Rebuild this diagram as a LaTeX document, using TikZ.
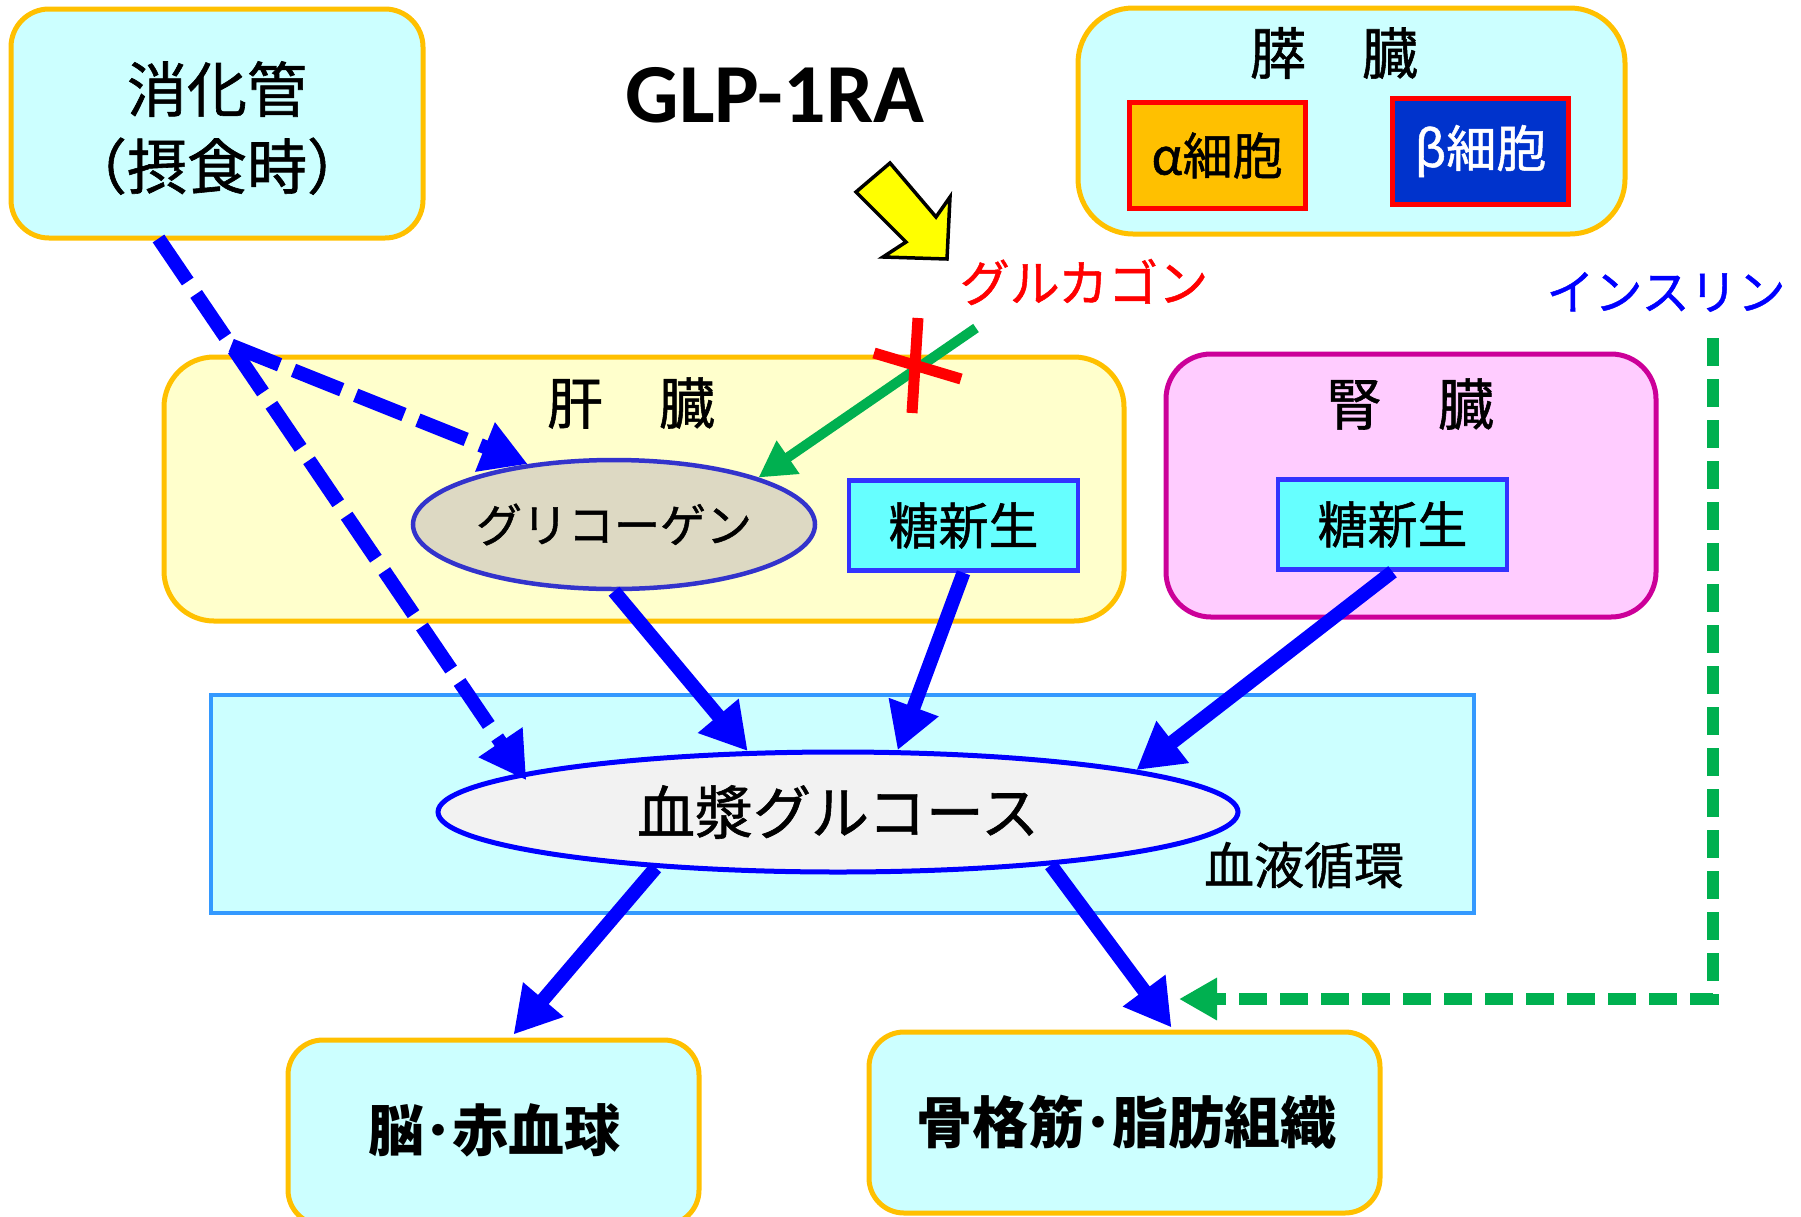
\documentclass[tikz,border=0pt]{standalone}
\usepackage{fontspec}
\setmainfont{Noto Sans CJK JP}[UprightFeatures={FakeBold=1}]
\newfontfamily\latinfont{Carlito}
\usetikzlibrary{arrows.meta,calc,shapes.geometric}
\definecolor{lightcyan}{HTML}{CCFFFF}
\definecolor{goldline}{HTML}{FFC000}
\definecolor{liverfill}{HTML}{FFFFCC}
\definecolor{kidneyfill}{HTML}{FFCCFF}
\definecolor{kidneyline}{HTML}{CC0099}
\definecolor{tsnfill}{HTML}{66FFFF}
\definecolor{tsnline}{HTML}{3333FF}
\definecolor{glycofill}{HTML}{DDD9C3}
\definecolor{glycoline}{HTML}{3333CC}
\definecolor{bloodline}{HTML}{3399FF}
\definecolor{glucfill}{HTML}{F2F2F2}
\definecolor{pureblue}{HTML}{0000FF}
\definecolor{greenline}{HTML}{00B050}
\definecolor{purered}{HTML}{FF0000}
\definecolor{alphafill}{HTML}{FFC000}
\definecolor{betafill}{HTML}{0033CC}
\definecolor{arrowyellow}{HTML}{FFFF00}
\newcommand{\myfs}[1]{\fontsize{#1}{#1}\selectfont}
\begin{document}
\begin{tikzpicture}[x=1pt,y=-1pt,
  organbox/.style={draw=goldline,line width=5pt,fill=lightcyan,rounded corners=38pt,inner sep=0pt},
  liverbox/.style={draw=goldline,line width=5pt,fill=liverfill,rounded corners=50pt,inner sep=0pt},
  kidneybox/.style={draw=kidneyline,line width=5pt,fill=kidneyfill,rounded corners=45pt,inner sep=0pt},
  tsnbox/.style={draw=tsnline,line width=4.5pt,fill=tsnfill,minimum width=229pt,minimum height=90pt,inner sep=0pt,font=\myfs{50}},
  cellbox/.style={draw=purered,line width=5pt,minimum width=176pt,minimum height=106pt,inner sep=0pt,font=\myfs{50}},
  titletext/.style={font=\myfs{56},inner sep=0pt},
  bluearr/.style={draw=pureblue,line width=14pt,-{Triangle[length=46pt,width=50pt]}},
  bluedash/.style={bluearr,dash pattern=on 52pt off 15pt},
  greenarr/.style={draw=greenline,line width=10pt,-{Triangle[length=36pt,width=38pt]}},
  greendash/.style={draw=greenline,line width=12pt,dash pattern=on 28pt off 13pt,-{Triangle[length=38pt,width=40pt]}},
  redcross/.style={draw=purered,line width=11pt}
]
\useasboundingbox (0,0) rectangle (1801,1216);

% --- containers ---
\node[organbox,minimum width=412pt,minimum height=229pt] (gut) at (217,123.5) {};
\node[font=\fontsize{60}{77}\selectfont,align=center,inner sep=0pt] (gutlabel) at (217,128) {消化管\\（摂食時）};

\node[organbox,rounded corners=55pt,minimum width=547pt,minimum height=226pt] (pancreas) at (1351.5,121) {};
\node[titletext] (pancreaslabel) at (1334,53) {膵　臓};
\node[cellbox,fill=alphafill] (alpha) at (1217,155.5) {α細胞};
\node[cellbox,fill=betafill,text=white] (beta) at (1480.5,151) {β細胞};

\node[liverbox,minimum width=960pt,minimum height=264pt] (liver) at (644,489) {};
\node[titletext] (liverlabel) at (631,403) {肝　臓};

\node[kidneybox,minimum width=490pt,minimum height=263pt] (kidney) at (1411,485.5) {};
\node[titletext] (kidneylabel) at (1410,404) {腎　臓};

\node[draw=bloodline,line width=4pt,fill=lightcyan,minimum width=1263pt,minimum height=218pt,inner sep=0pt] (blood) at (842.5,804) {};
\node[font=\myfs{50},inner sep=0pt] (bloodlabel) at (1304,865) {血液循環};

% --- inner nodes ---
\node[ellipse,draw=glycoline,line width=4.5pt,fill=glycofill,minimum width=402pt,minimum height=129pt,inner sep=0pt,font=\myfs{46}] (glyco) at (614,524.5) {グリコーゲン};
\node[tsnbox] (tsnliver) at (963.5,525.5) {糖新生};
\node[tsnbox] (tsnkidney) at (1392.5,524.5) {糖新生};
\node[ellipse,draw=pureblue,line width=5pt,fill=glucfill,minimum width=800pt,minimum height=120pt,inner sep=0pt,font=\myfs{58}] (glucose) at (838,812) {血漿グルコース};

% --- targets ---
\node[organbox,rounded corners=35pt,minimum width=411pt,minimum height=185pt] (brain) at (493.5,1132.5) {};
\node[font=\bfseries\myfs{56},inner sep=0pt] (brainlabel) at (494,1130) {脳･赤血球};
\node[organbox,rounded corners=35pt,minimum width=511pt,minimum height=181pt] (muscle) at (1124.5,1122.5) {};
\node[font=\bfseries\myfs{56},inner sep=0pt] (musclelabel) at (1126,1122) {骨格筋･脂肪組織};

% --- labels ---
\node[font=\latinfont\bfseries\myfs{84},inner sep=0pt] (glp) at (775,95) {GLP-1RA};
\node[font=\myfs{50},text=purered,inner sep=0pt] (glucagon) at (1084,282) {グルカゴン};
\node[font=\myfs{48},text=pureblue,inner sep=0pt] (insulin) at (1666,292) {インスリン};

% --- yellow block arrow ---
\draw[fill=arrowyellow,draw=black,line width=3.5pt,line join=miter]
  (890,163) -- (936,217) -- (950,197) -- (947,259) -- (883,257) -- (906,242) -- (856,192) -- cycle;

% --- connectors ---
\coordinate (gutout) at ($(gut.south west)+(150,-2)$);
\draw[bluedash] (gutout) -- ($(glucose.173)+(4,7)$);
\coordinate (branch) at ($(gutout)!0.2!(glucose.173)$);
\draw[bluedash] (branch) -- (glyco.145);
\draw[bluearr] (glyco.south) -- (glucose.146);
\draw[bluearr] (tsnliver.south) -- (glucose.46);
\draw[bluearr] (tsnkidney.south) -- (glucose.8.5);
\draw[bluearr] (glucose.197.4) -- ($(brain.north)+(20,-3)$);
\draw[bluearr] (glucose.-14.8) -- ($(muscle.north)+(47,-2)$);

\coordinate (glucstart) at (976,328);
\draw[greenarr] (glucstart) -- (glyco.18);
\coordinate (crossc) at (915,365);
\draw[redcross] (918,318) -- (912,413);
\draw[redcross] (874,353) -- (961,379);

\coordinate (insstart) at (1713,338);
\coordinate (insend) at (1179,999);
\draw[greendash] (insstart) |- (insend);
\end{tikzpicture}
\end{document}
